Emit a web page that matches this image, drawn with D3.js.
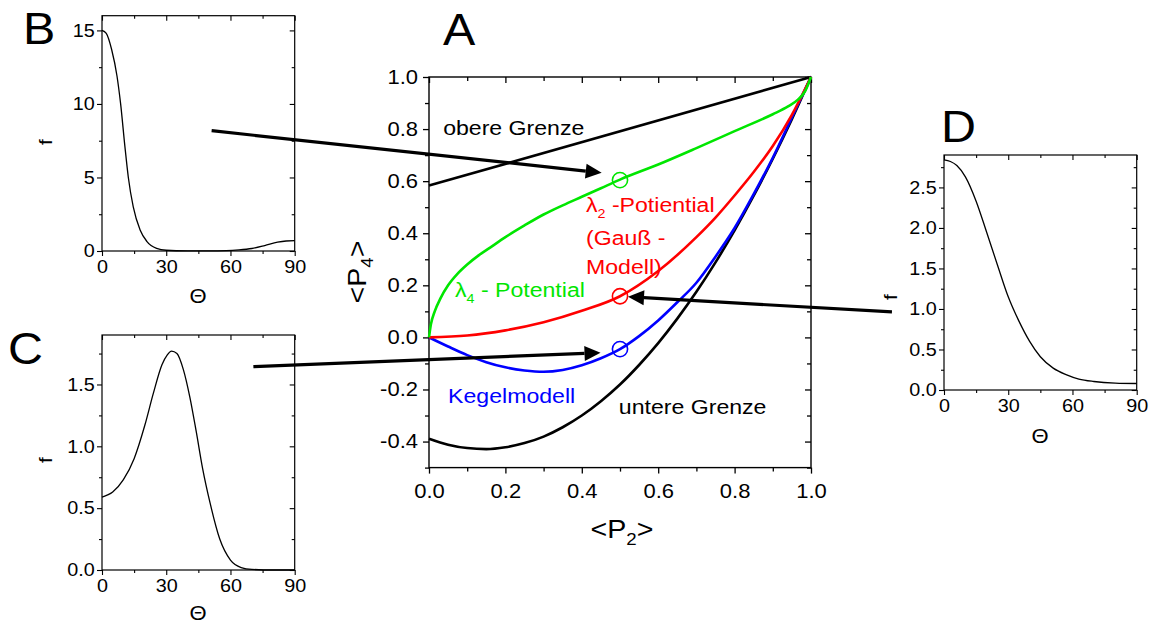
<!DOCTYPE html>
<html>
<head>
<meta charset="utf-8">
<script src="https://cdn.jsdelivr.net/npm/d3@7"></script>
<style>
  body { margin: 0; background: #fff; }
  svg { display: block; font-family: "Liberation Sans", Arial, sans-serif; }
</style>
</head>
<body>
<div id="chart"></div>
<script>
// ---- panel A: <P4> vs <P2> ----
const upperP2 = [0, 1];
const upperP4 = [0.583, 1.0];

const lowerP2 = [0, 0.05, 0.1, 0.15, 0.2, 0.25, 0.3, 0.35, 0.4, 0.45, 0.5, 0.55, 0.6, 0.65, 0.7, 0.75, 0.8, 0.85, 0.9, 0.95, 1];
const lowerP4 = [-0.389, -0.412, -0.425, -0.429, -0.422, -0.406, -0.381, -0.345, -0.300, -0.245, -0.181, -0.106, -0.022, 0.072, 0.175, 0.288, 0.411, 0.544, 0.686, 0.838, 1.0];

const greenP2 = [0, 0.005, 0.015, 0.03, 0.05, 0.075, 0.1, 0.13, 0.16, 0.2, 0.25, 0.3, 0.35, 0.4, 0.45, 0.5, 0.6, 0.7, 0.8, 0.9, 0.94, 0.965, 0.985, 1];
const greenP4 = [0, 0.05, 0.10, 0.15, 0.20, 0.245, 0.28, 0.315, 0.345, 0.385, 0.43, 0.472, 0.507, 0.54, 0.573, 0.606, 0.664, 0.727, 0.792, 0.857, 0.887, 0.912, 0.947, 1.0];

const redP2 = [0, 0.1, 0.2, 0.3, 0.4, 0.5, 0.6, 0.7, 0.75, 0.8, 0.85, 0.9, 0.95, 1];
const redP4 = [0, 0.007, 0.027, 0.058, 0.102, 0.158, 0.255, 0.385, 0.46, 0.545, 0.635, 0.735, 0.855, 1.0];

const blueP2 = [0, 0.05, 0.1, 0.15, 0.2, 0.25, 0.3, 0.35, 0.4, 0.45, 0.5, 0.55, 0.6, 0.65, 0.7, 0.75, 0.8, 0.85, 0.9, 0.95, 1];
const blueP4 = [0, -0.035, -0.068, -0.095, -0.115, -0.127, -0.132, -0.125, -0.107, -0.08, -0.045, 0.005, 0.065, 0.135, 0.21, 0.31, 0.42, 0.55, 0.69, 0.845, 1.0];

// open circles at <P2> = 0.5 (green, red, blue)
const markerP2 = [0.5, 0.5, 0.5];
const markerP4 = [0.604, 0.158, -0.045];

const aTicksX = [0, 0.2, 0.4, 0.6, 0.8, 1.0];
const aMinorX = [0.1, 0.3, 0.5, 0.7, 0.9];
const aTicksY = [-0.4, -0.2, 0, 0.2, 0.4, 0.6, 0.8, 1.0];
const aMinorY = [-0.5, -0.3, -0.1, 0.1, 0.3, 0.5, 0.7, 0.9];

// ---- panels B, C, D: f(Theta) ----
const thetaB = [0, 2, 4.5, 7, 8.7, 10.7, 12.3, 14.6, 17.8, 21, 25.5, 30, 40, 50, 58, 64, 70, 76, 82, 86, 90];
const fB = [15.0, 14.8, 13.7, 11.9, 10.0, 7.1, 5.0, 3.0, 1.43, 0.64, 0.18, 0.05, 0.01, 0.005, 0.02, 0.07, 0.17, 0.37, 0.6, 0.68, 0.7];

const thetaC = [0, 5, 10, 15, 20, 24, 28, 30.5, 32.5, 35, 38, 41, 44, 47, 50.5, 55, 60, 65, 70, 80, 90];
const fC = [0.59, 0.63, 0.73, 0.90, 1.17, 1.43, 1.66, 1.74, 1.77, 1.75, 1.62, 1.40, 1.12, 0.82, 0.54, 0.25, 0.08, 0.02, 0.005, 0, 0];

const thetaD = [0, 3, 6, 10, 15, 20, 25, 30, 35, 40, 45, 51, 57, 63, 70, 80, 90];
const fD = [2.84, 2.82, 2.77, 2.63, 2.33, 1.94, 1.54, 1.15, 0.85, 0.6, 0.41, 0.27, 0.19, 0.135, 0.105, 0.085, 0.08];

const thetaTicks = [0, 30, 60, 90];
const thetaMinor = [15, 45, 75];
const bTicksY = [0, 5, 10, 15];
const bMinorY = [2.5, 7.5, 12.5];
const cTicksY = [0, 0.5, 1.0, 1.5];
const cMinorY = [0.25, 0.75, 1.25, 1.75];
const dTicksY = [0, 0.5, 1.0, 1.5, 2.0, 2.5];
const dMinorY = [0.25, 0.75, 1.25, 1.75, 2.25, 2.75];

const S = 1.1; // horizontal stretch of the lettering

const svg = d3.select("#chart").append("svg")
    .attr("width", 1150)
    .attr("height", 626);

svg.append("rect").attr("width", 1150).attr("height", 626).attr("fill", "#fff");

function txt(x, y, size, str, anchor, rot) {
    return svg.append("text")
        .attr("transform", `translate(${x},${y}) rotate(${rot || 0}) scale(${S},1)`)
        .attr("font-size", size)
        .attr("text-anchor", anchor || "start")
        .text(str);
}

function panel(box, xDom, yDom, xt, xm, yt, ym, fmtX, fmtY, o) {
    const x = d3.scaleLinear().domain(xDom).range([box.x0, box.x1]);
    const y = d3.scaleLinear().domain(yDom).range([box.y1, box.y0]);
    const g = svg.append("g");

    const styl = sel => {
        sel.select(".domain").remove();
        sel.selectAll("line").attr("stroke", "#000").attr("stroke-width", o.tw);
        sel.selectAll("text").attr("font-size", o.fs).attr("fill", "#000")
            .attr("font-family", "Liberation Sans, Arial, sans-serif")
            .attr("transform", `scale(${S},1)`);
    };

    // bottom and left, ticks outward
    g.append("g").attr("transform", `translate(0,${box.y1})`)
        .call(d3.axisBottom(x).tickValues(xt).tickSize(o.major).tickPadding(o.padX).tickFormat(fmtX)).call(styl);
    g.append("g").attr("transform", `translate(0,${box.y1})`)
        .call(d3.axisBottom(x).tickValues(xm).tickSize(o.minor).tickFormat("")).call(styl);
    g.append("g").attr("transform", `translate(${box.x0},0)`)
        .call(d3.axisLeft(y).tickValues(yt).tickSize(o.major).tickPadding(o.padY).tickFormat(fmtY)).call(styl);
    g.append("g").attr("transform", `translate(${box.x0},0)`)
        .call(d3.axisLeft(y).tickValues(ym).tickSize(o.minor).tickFormat("")).call(styl);

    // top and right mirrors, ticks inward
    g.append("g").attr("transform", `translate(0,${box.y0})`)
        .call(d3.axisTop(x).tickValues(xt).tickSize(-o.major).tickFormat("")).call(styl);
    g.append("g").attr("transform", `translate(0,${box.y0})`)
        .call(d3.axisTop(x).tickValues(xm).tickSize(-o.minor).tickFormat("")).call(styl);
    g.append("g").attr("transform", `translate(${box.x1},0)`)
        .call(d3.axisRight(y).tickValues(yt).tickSize(-o.major).tickFormat("")).call(styl);
    g.append("g").attr("transform", `translate(${box.x1},0)`)
        .call(d3.axisRight(y).tickValues(ym).tickSize(-o.minor).tickFormat("")).call(styl);

    g.append("rect")
        .attr("x", box.x0).attr("y", box.y0)
        .attr("width", box.x1 - box.x0).attr("height", box.y1 - box.y0)
        .attr("fill", "none").attr("stroke", "#000").attr("stroke-width", o.fw);

    return {g, x, y};
}

function curve(p, xs, ys, color, width) {
    const line = d3.line()
        .x(d => p.x(d[0]))
        .y(d => p.y(d[1]))
        .curve(d3.curveMonotoneX);
    p.g.append("path")
        .datum(d3.zip(xs, ys))
        .attr("d", line)
        .attr("fill", "none")
        .attr("stroke", color)
        .attr("stroke-width", width)
        .attr("stroke-linejoin", "round");
}

const small = {major: 5, minor: 3, padX: 4, padY: 1.5, fs: 18, tw: 1.1, fw: 1.2};
const f1 = d => d.toFixed(1);

// ---- panel A ----
const A = panel({x0: 429, x1: 811, y0: 77, y1: 467.6}, [0, 1], [-0.5, 1.0],
    aTicksX, aMinorX, aTicksY, aMinorY, f1, f1,
    {major: 6, minor: 4, padX: 10, padY: 4, fs: 20, tw: 1.3, fw: 1.4});

curve(A, upperP2, upperP4, "#000", 2.6);
curve(A, lowerP2, lowerP4, "#000", 2.6);
curve(A, blueP2, blueP4, "#0000ff", 2.6);
curve(A, redP2, redP4, "#ff0000", 2.6);
curve(A, greenP2, greenP4, "#00e600", 2.6);

const markerColor = ["#00e600", "#ff0000", "#0000ff"];
A.g.selectAll("circle.m")
    .data(d3.zip(markerP2, markerP4))
    .join("circle")
    .attr("class", "m")
    .attr("cx", d => A.x(d[0]))
    .attr("cy", d => A.y(d[1]))
    .attr("r", 7.6)
    .attr("fill", "none")
    .attr("stroke", (d, i) => markerColor[i])
    .attr("stroke-width", 1.6);

// ---- panels B, C, D ----
const B = panel({x0: 102, x1: 294.7, y0: 15.7, y1: 251}, [0, 90], [0, 16],
    thetaTicks, thetaMinor, bTicksY, bMinorY, d3.format("d"), d3.format("d"), small);
curve(B, thetaB, fB, "#000", 1.3);

const C = panel({x0: 102, x1: 294.7, y0: 335, y1: 570}, [0, 90], [0, 1.9],
    thetaTicks, thetaMinor, cTicksY, cMinorY, d3.format("d"), f1, small);
curve(C, thetaC, fC, "#000", 1.3);

const D = panel({x0: 944, x1: 1136.7, y0: 155, y1: 390}, [0, 90], [0, 2.9],
    thetaTicks, thetaMinor, dTicksY, dMinorY, d3.format("d"), f1, small);
curve(D, thetaD, fD, "#000", 1.3);

// ---- arrows: from a point in a small panel to a point in panel A ----
const arrows = [
    {src: B, sx: 51.2, sy: 8.18, tx: 0.452, ty: 0.632},
    {src: C, sx: 70.7, sy: 1.644, tx: 0.449, ty: -0.059},
    {src: D, sx: -24.3, sy: 0.963, tx: 0.521, ty: 0.156}
];
arrows.forEach(a => {
    const x0 = a.src.x(a.sx), y0 = a.src.y(a.sy);
    const x1 = A.x(a.tx), y1 = A.y(a.ty);
    const ang = Math.atan2(y1 - y0, x1 - x0);
    const len = 16, hw = 7.5;
    const bx = x1 - len * Math.cos(ang), by = y1 - len * Math.sin(ang);
    svg.append("line")
        .attr("x1", x0).attr("y1", y0).attr("x2", bx).attr("y2", by)
        .attr("stroke", "#000").attr("stroke-width", 3.2);
    svg.append("path")
        .attr("d", `M${x1},${y1}L${bx - hw * Math.sin(ang)},${by + hw * Math.cos(ang)}L${bx + hw * Math.sin(ang)},${by - hw * Math.cos(ang)}Z`)
        .attr("fill", "#000");
});

// ---- lettering ----
txt(23, 44, 44, "B");
txt(8, 364, 44, "C");
txt(941, 142, 44, "D");
txt(443, 45, 44, "A");

txt(52, 142, 19, "f", "middle", -90);
txt(52, 460, 19, "f", "middle", -90);
txt(897, 297, 19, "f", "middle", -90);
txt(198, 303, 20, "\u0398", "middle");
txt(198, 620, 20, "\u0398", "middle");
txt(1040, 443, 20, "\u0398", "middle");

// axis titles of A
const xl = txt(622, 538, 26, "<P", "middle");
xl.append("tspan").attr("font-size", 17).attr("dy", 7).text("2");
xl.append("tspan").attr("dy", -7).text(">");
const yl = txt(366, 272, 26, "<P", "middle", -90);
yl.append("tspan").attr("font-size", 17).attr("dy", 7).text("4");
yl.append("tspan").attr("dy", -7).text(">");

// curve labels inside A
txt(A.x(0.037), A.y(0.776), 21, "obere Grenze");
txt(A.x(0.497), A.y(-0.294), 21, "untere Grenze");
txt(A.x(0.05), A.y(-0.251), 21, "Kegelmodell").attr("fill", "#0000ff");

const gl = txt(A.x(0.068), A.y(0.156), 21, "\u03bb").attr("fill", "#00e600");
gl.append("tspan").attr("font-size", 13).attr("dy", 6).text("4");
gl.append("tspan").attr("dy", -6).text(" - Potential");

const rl = txt(A.x(0.411), A.y(0.482), 21, "\u03bb").attr("fill", "#ff0000");
rl.append("tspan").attr("font-size", 13).attr("dy", 6).text("2");
rl.append("tspan").attr("dy", -6).text(" -Potiential");
txt(A.x(0.411), A.y(0.354), 21, "(Gau\u00df -").attr("fill", "#ff0000");
txt(A.x(0.411), A.y(0.244), 21, "Modell)").attr("fill", "#ff0000");
</script>
</body>
</html>
